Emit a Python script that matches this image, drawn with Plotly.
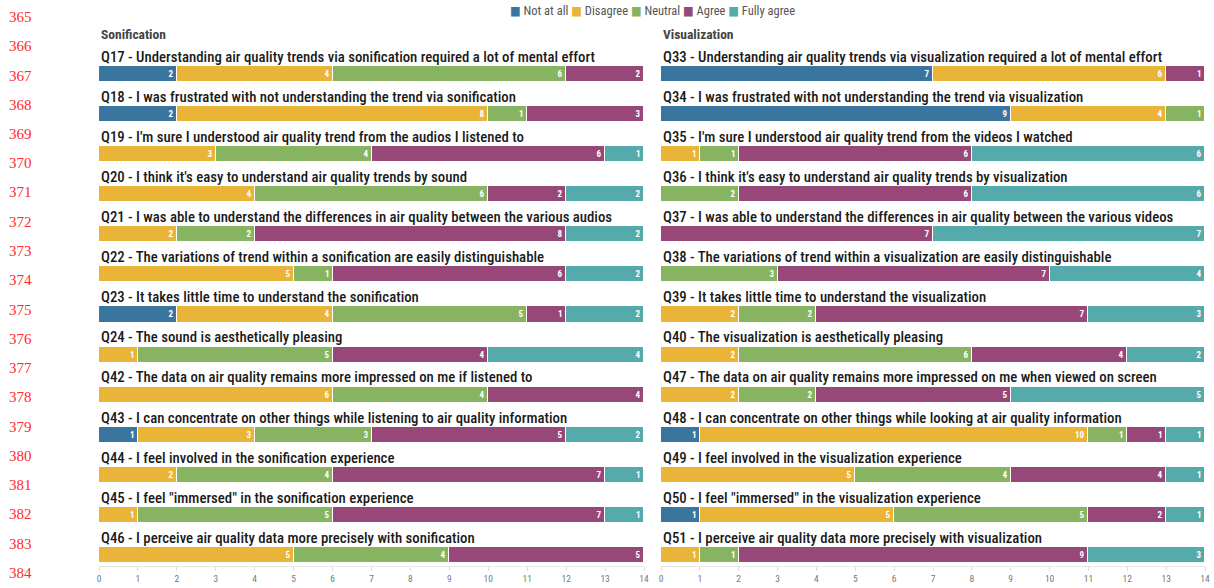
import plotly.graph_objects as go

# Likert levels and their colours
levels = ["Not at all", "Disagree", "Neutral", "Agree", "Fully agree"]
level_colors = ["#3a759f", "#e9b437", "#87b460", "#974878", "#55abab"]

# Sonification questionnaire
son_questions = [
    "Q17 - Understanding air quality trends via sonification required a lot of mental effort",
    "Q18 - I was frustrated with not understanding the trend via sonification",
    "Q19 - I'm sure I understood air quality trend from the audios I listened to",
    "Q20 - I think it's easy to understand air quality trends by sound",
    "Q21 - I was able to understand the differences in air quality between the various audios",
    "Q22 - The variations of trend within a sonification are easily distinguishable",
    "Q23 - It takes little time to understand the sonification",
    "Q24 - The sound is aesthetically pleasing",
    "Q42 - The data on air quality remains more impressed on me if listened to",
    "Q43 - I can concentrate on other things while listening to air quality information",
    "Q44 - I feel involved in the sonification experience",
    "Q45 - I feel \"immersed\" in the sonification experience",
    "Q46 - I perceive air quality data more precisely with sonification",
]
son_not_at_all = [2, 2, 0, 0, 0, 0, 2, 0, 0, 1, 0, 0, 0]
son_disagree = [4, 8, 3, 4, 2, 5, 4, 1, 6, 3, 2, 1, 5]
son_neutral = [6, 1, 4, 6, 2, 1, 5, 5, 4, 3, 4, 5, 4]
son_agree = [2, 3, 6, 2, 8, 6, 1, 4, 4, 5, 7, 7, 5]
son_fully_agree = [0, 0, 1, 2, 2, 2, 2, 4, 0, 2, 1, 1, 0]

# Visualization questionnaire
vis_questions = [
    "Q33 - Understanding air quality trends via visualization required a lot of mental effort",
    "Q34 - I was frustrated with not understanding the trend via visualization",
    "Q35 - I'm sure I understood air quality trend from the videos I watched",
    "Q36 - I think it's easy to understand air quality trends by visualization",
    "Q37 - I was able to understand the differences in air quality between the various videos",
    "Q38 - The variations of trend within a visualization are easily distinguishable",
    "Q39 - It takes little time to understand the visualization",
    "Q40 - The visualization is aesthetically pleasing",
    "Q47 - The data on air quality remains more impressed on me when viewed on screen",
    "Q48 - I can concentrate on other things while looking at air quality information",
    "Q49 - I feel involved in the visualization experience",
    "Q50 - I feel \"immersed\" in the visualization experience",
    "Q51 - I perceive air quality data more precisely with visualization",
]
vis_not_at_all = [7, 9, 0, 0, 0, 0, 0, 0, 0, 1, 0, 1, 0]
vis_disagree = [6, 4, 1, 0, 0, 0, 2, 2, 2, 10, 5, 5, 1]
vis_neutral = [0, 1, 1, 2, 0, 3, 2, 6, 2, 1, 4, 5, 1]
vis_agree = [1, 0, 6, 6, 7, 7, 7, 4, 5, 1, 4, 2, 9]
vis_fully_agree = [0, 0, 6, 6, 7, 4, 3, 2, 5, 1, 1, 1, 3]

x_ticks = list(range(0, 15))
line_numbers = list(range(365, 385))

panels = [
    ("Sonification", son_questions,
     [son_not_at_all, son_disagree, son_neutral, son_agree, son_fully_agree], "x", "y", 0.0),
    ("Visualization", vis_questions,
     [vis_not_at_all, vis_disagree, vis_neutral, vis_agree, vis_fully_agree], "x2", "y2", 562 / 1106),
]

COND = "Roboto Condensed, Liberation Sans Narrow, DejaVu Sans Condensed, Roboto, sans-serif"

H, TOP, BOT = 588, 40, 22
plot_h = H - TOP - BOT


def px_to_paper_y(py):
    return (H - BOT - py) / plot_h


fig = go.Figure()
annotations = []

for panel_title, questions, series, xa, ya, x0 in panels:
    rows = list(range(len(questions)))
    for level, color, vals in zip(levels, level_colors, series):
        fig.add_trace(go.Bar(
            orientation="h",
            y=rows,
            x=vals,
            name=level,
            xaxis=xa,
            yaxis=ya,
            width=0.4,
            marker=dict(color=color, line=dict(color="white", width=1)),
            text=[str(v) if v else "" for v in vals],
            textposition="inside",
            insidetextanchor="end",
            textangle=0,
            constraintext="none",
            textfont=dict(color="white", size=9, family=COND, weight="bold"),
            showlegend=False,
            hovertemplate="%{x}<extra>" + level + "</extra>",
        ))
    # question titles above each bar
    for i, q in enumerate(questions):
        annotations.append(dict(
            x=0, y=i - 0.43, xref=xa, yref=ya,
            text=q, showarrow=False, xanchor="left", yanchor="middle",
            font=dict(size=14.8, color="#1a1a1a", family=COND, weight=500),
        ))
    # panel heading
    annotations.append(dict(
        x=x0, y=px_to_paper_y(34), xref="paper", yref="paper",
        text="<b>" + panel_title + "</b>", showarrow=False,
        xanchor="left", yanchor="middle",
        font=dict(size=13.5, color="#444444", family=COND),
    ))

# compact legend line at the top
legend_text = " ".join(
    f"<span style='color:{c}'>■</span><span style='color:#555555'> {lv}</span>"
    for lv, c in zip(levels, level_colors)
)
annotations.append(dict(
    x=0.5, y=px_to_paper_y(10), xref="paper", yref="paper", text=legend_text,
    showarrow=False, xanchor="center", yanchor="middle",
    font=dict(size=12.5, family=COND, color="#555555"),
))

# margin line numbers
for k, n in enumerate(line_numbers):
    py = 17 + k * 29.25
    annotations.append(dict(
        x=-79 / 1106, y=px_to_paper_y(py),
        xref="paper", yref="paper", text=str(n), showarrow=False,
        xanchor="center", yanchor="middle",
        font=dict(size=15, color="#ff2a2a", family="Liberation Serif, serif"),
    ))

axis_common = dict(
    range=[0, 14], tickvals=x_ticks, ticks="outside", ticklen=4,
    tickcolor="#dddddd", showline=True, linecolor="#e6e6e6",
    showgrid=False, zeroline=False, automargin=False,
    tickfont=dict(size=9.5, color="#777777", family=COND),
)
yaxis_common = dict(range=[12.275, -0.848], visible=False, showgrid=False,
                    zeroline=False, automargin=False)

fig.update_layout(
    width=1214, height=588,
    margin=dict(l=99, r=9, t=TOP, b=BOT, autoexpand=False),
    barmode="stack",
    bargap=0,
    plot_bgcolor="white", paper_bgcolor="white",
    xaxis=dict(domain=[0, 545 / 1106], anchor="y", **axis_common),
    xaxis2=dict(domain=[562 / 1106, 1], anchor="y2", **axis_common),
    yaxis=dict(anchor="x", **yaxis_common),
    yaxis2=dict(anchor="x2", **yaxis_common),
    annotations=annotations,
    showlegend=False,
)

fig.write_html("out.html")
